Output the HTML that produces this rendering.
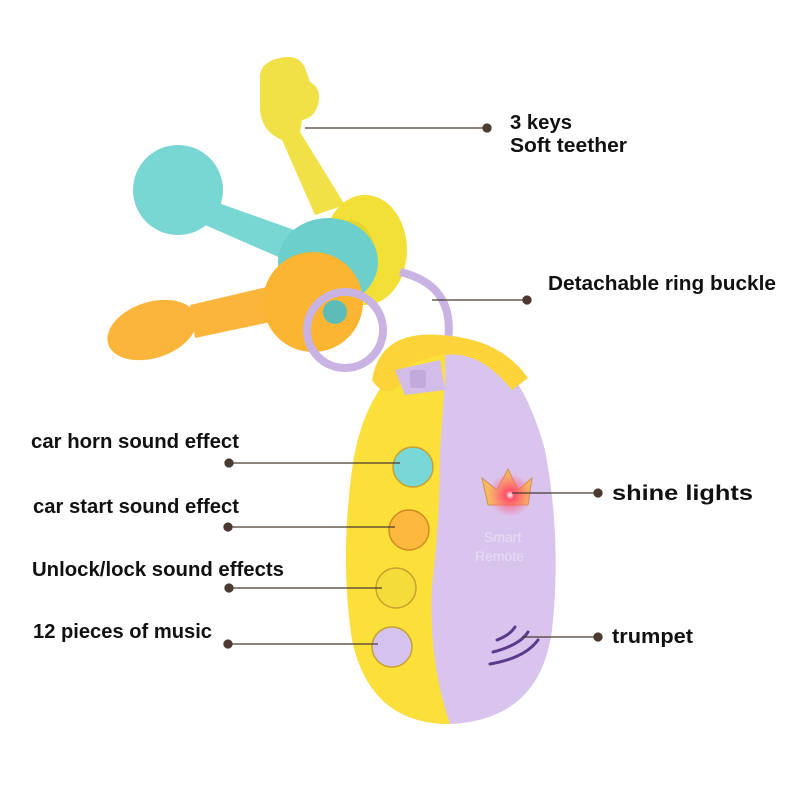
<!DOCTYPE html>
<html><head><meta charset="utf-8"><style>
html,body{margin:0;padding:0;background:#fff}
svg{display:block}
text{font-family:"Liberation Sans",sans-serif;font-weight:bold;font-size:20px;fill:#111}
</style></head><body>
<svg width="800" height="800" viewBox="0 0 800 800">
<defs>
<radialGradient id="glow" cx="0.5" cy="0.5" r="0.5">
<stop offset="0" stop-color="#fff"/><stop offset="0.2" stop-color="#ff4f6a"/><stop offset="1" stop-color="#ff6f8a" stop-opacity="0"/>
</radialGradient>
</defs>
<!-- yellow key -->
<path d="M260,75 Q262,60 285,57 Q300,56 305,68 L310,82 Q322,88 318,105 Q314,118 302,120 L300,132 L345,205 L315,215 L282,140 Q262,132 260,110 Z" fill="#f1e046"/>
<!-- cyan key -->
<circle cx="178" cy="190" r="45" fill="#78d6d3"/>
<path d="M210,200 L300,232 L290,262 L205,225 Z" fill="#78d6d3"/>
<!-- yellow ring -->
<ellipse cx="365" cy="250" rx="42" ry="55" fill="#f3e036"/>
<ellipse cx="350" cy="255" rx="25" ry="35" fill="#e6d530"/>
<!-- cyan ring -->
<ellipse cx="328" cy="262" rx="50" ry="44" fill="#6dcfcc"/>
<!-- orange key -->
<ellipse cx="152" cy="330" rx="46" ry="28" transform="rotate(-18 152 330)" fill="#fbb53a"/>
<path d="M190,305 L275,285 L280,320 L195,338 Z" fill="#fbb53a"/>
<circle cx="313" cy="302" r="50" fill="#fcb530"/>
<circle cx="335" cy="312" r="12" fill="#5cbcb8"/>
<!-- purple small ring -->
<circle cx="345" cy="330" r="38" fill="none" stroke="#c9b3e3" stroke-width="8"/>
<!-- detachable ring -->
<path d="M400,272 Q455,285 448,340 Q445,375 420,385" fill="none" stroke="#c9b3e3" stroke-width="8"/>
<!-- body -->
<path d="M445,335 Q515,340 545,450 Q562,540 552,630 Q540,720 450,724 Q370,724 352,640 Q340,560 352,470 Q365,370 445,335 Z" fill="#d9c4ee"/>
<path d="M445,335 Q365,370 352,470 Q340,560 352,640 Q370,724 450,724 Q428,660 432,585 Q440,520 440,450 L445,380 Z" fill="#fbe03a"/>
<!-- handle -->
<path d="M372,380 Q380,330 440,335 Q500,338 528,378 L512,390 Q480,350 445,355 Q400,360 400,385 Q385,400 372,380 Z" fill="#fcd43a"/>
<path d="M395,370 L440,360 L445,390 L405,395 Z" fill="#d2bce8"/>
<rect x="410" y="370" width="16" height="18" rx="3" fill="#c2aadd"/>
<!-- buttons -->
<circle cx="413" cy="467" r="20" fill="#78d8d8" stroke="#c9a030" stroke-width="1.5"/>
<circle cx="409" cy="530" r="20" fill="#fdb93e" stroke="#d08a20" stroke-width="1.5"/>
<circle cx="396" cy="588" r="20" fill="#f4dd3a" stroke="#c9a030" stroke-width="1.5"/>
<circle cx="392" cy="647" r="20" fill="#d6c2ee" stroke="#c9a030" stroke-width="1.5"/>
<!-- crown -->
<path d="M482,478 L497,490 L508,469 L518,490 L532,478 L528,505 L488,505 Z" fill="#f7b860" stroke="#d09050" stroke-width="1"/>
<circle cx="510" cy="495" r="22" fill="url(#glow)"/>
<text x="484" y="542" style="font-weight:normal;font-size:14px;fill:#e8dcf4">Smart</text>
<text x="475" y="561" style="font-weight:normal;font-size:14px;fill:#e8dcf4">Remote</text>
<!-- trumpet -->
<path d="M497,640 Q510,635 515,627 M493,652 Q520,645 528,632 M490,664 Q525,658 538,640" fill="none" stroke="#5a3a8a" stroke-width="3" stroke-linecap="round"/>
<!-- connectors -->
<g stroke="#4a3a30" stroke-width="1.3" fill="#4a3a30">
<line x1="305" y1="128" x2="487" y2="128"/><circle cx="487" cy="128" r="4"/>
<line x1="432" y1="300" x2="527" y2="300"/><circle cx="527" cy="300" r="4"/>
<line x1="229" y1="463" x2="400" y2="463"/><circle cx="229" cy="463" r="4"/>
<line x1="228" y1="527" x2="395" y2="527"/><circle cx="228" cy="527" r="4"/>
<line x1="229" y1="588" x2="382" y2="588"/><circle cx="229" cy="588" r="4"/>
<line x1="228" y1="644" x2="378" y2="644"/><circle cx="228" cy="644" r="4"/>
<line x1="512" y1="493" x2="598" y2="493"/><circle cx="598" cy="493" r="4"/>
<line x1="522" y1="637" x2="598" y2="637"/><circle cx="598" cy="637" r="4"/>
</g>
<!-- labels -->
<text x="510" y="129" textLength="62" lengthAdjust="spacingAndGlyphs">3 keys</text>
<text x="510" y="152" textLength="117" lengthAdjust="spacingAndGlyphs">Soft teether</text>
<text x="548" y="290" textLength="228" lengthAdjust="spacingAndGlyphs">Detachable ring buckle</text>
<text x="31" y="448" textLength="208" lengthAdjust="spacingAndGlyphs">car horn sound effect</text>
<text x="33" y="513" textLength="206" lengthAdjust="spacingAndGlyphs">car start sound effect</text>
<text x="32" y="576" textLength="252" lengthAdjust="spacingAndGlyphs">Unlock/lock sound effects</text>
<text x="33" y="638" textLength="179" lengthAdjust="spacingAndGlyphs">12 pieces of music</text>
<text x="612" y="500" textLength="141" lengthAdjust="spacingAndGlyphs" style="font-size:21px">shine lights</text>
<text x="612" y="643" textLength="81" lengthAdjust="spacingAndGlyphs">trumpet</text>
</svg>
</body></html>
